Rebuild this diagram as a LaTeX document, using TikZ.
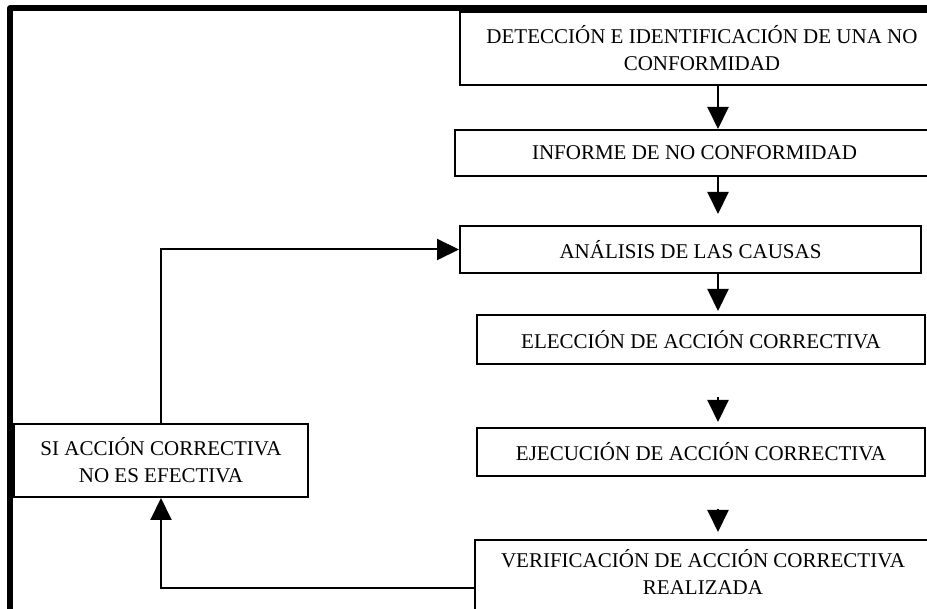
\documentclass[tikz,border=0pt]{standalone}
\usepackage{fontspec}
\setmainfont{Liberation Serif}
\usetikzlibrary{arrows.meta}
\tikzset{
  box/.style={draw, line width=2pt, rectangle, inner sep=0pt, align=center,
    font=\fontsize{21pt}{27pt}\selectfont},
  lbl/.style={inner sep=0pt, align=center, font=\fontsize{21pt}{27pt}\selectfont},
  arr/.style={line width=2pt, -{Triangle[width=21pt,length=22pt]}},
  link/.style={line width=2pt},
  frameline/.style={line width=5.5pt, line cap=round, line join=round}
}
\begin{document}
\begin{tikzpicture}[x=1pt,y=-1pt]
\useasboundingbox (0,0) rectangle (927,609);
\clip (0,0) rectangle (927,609);
\fill[white] (0,0) rectangle (927,609);
% outer frame
\draw[frameline] (10,640) -- (10,8) -- (960,8);
% boxes
\node[box, minimum width=484pt, minimum height=73pt] (b1) at (702,48.5)
  {DETECCIÓN E IDENTIFICACIÓN DE UNA NO\\CONFORMIDAD};
\node[box, minimum width=479pt, minimum height=46pt] (b2) at (694.5,153)
  {INFORME DE NO CONFORMIDAD};
\node[box, minimum width=461pt, minimum height=47pt] (b3) at (690.5,249.5)
  {ANÁLISIS DE LAS CAUSAS};
\node[box, minimum width=448pt, minimum height=49pt] (b4) at (701,339.5)
  {ELECCIÓN DE ACCIÓN CORRECTIVA};
\node[box, minimum width=448pt, minimum height=48pt] (b5) at (701,452)
  {EJECUCIÓN DE ACCIÓN CORRECTIVA};
\node[box, minimum width=465pt, minimum height=100pt] (b6) at (707.5,590) {};
\node[lbl, anchor=north] (t6) at ([xshift=-4.5pt,yshift=-10pt]b6.north)
  {VERIFICACIÓN DE ACCIÓN CORRECTIVA\\REALIZADA};
\node[box, minimum width=294pt, minimum height=73pt] (b7) at (161,460.5)
  {SI ACCIÓN CORRECTIVA\\NO ES EFECTIVA};
% arrows
\coordinate (ax) at (718,0);
\coordinate (s4) at (718,397);
\coordinate (s5) at (718,509);
\coordinate (c6) at (475,588);
\draw[arr] (b1.south -| ax) -- (b2.north -| ax);
\draw[arr, shorten >=11pt] (b2.south -| ax) -- (b3.north -| ax);
\draw[arr, shorten >=3pt] (b3.south -| ax) -- (b4.north -| ax);
\draw[arr, shorten >=5pt] (s4) -- (b5.north -| ax);
\draw[arr, shorten >=7pt] (s5) -- (b6.north -| ax);
\draw[arr] (c6) -| (b7.south);
\draw[arr] (b7.north) |- (b3.west);
\end{tikzpicture}
\end{document}
